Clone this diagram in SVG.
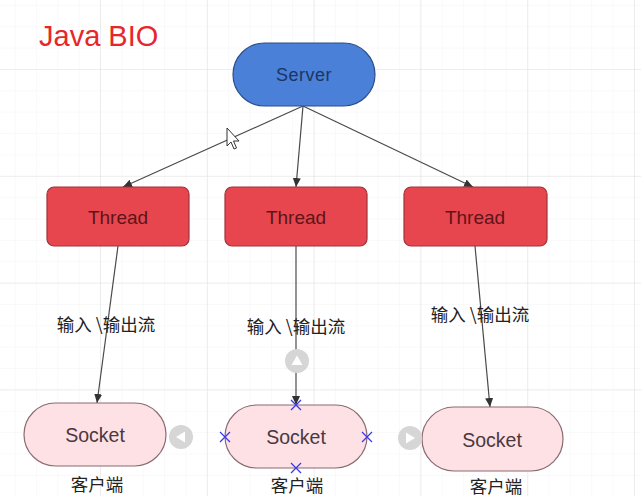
<svg xmlns="http://www.w3.org/2000/svg" width="641" height="496" viewBox="0 0 641 496">
<defs>
<pattern id="minor" x="-6.8" y="-37.8" width="21.36" height="21.36" patternUnits="userSpaceOnUse">
<path d="M0 0H21.36M0 0V21.36" fill="none" stroke="#f3f3f3" stroke-width="1"/>
</pattern>
<pattern id="major" x="-6.8" y="-37.8" width="106.8" height="106.8" patternUnits="userSpaceOnUse">
<path d="M0 0H106.8M0 0V106.8" fill="none" stroke="#e2e2e2" stroke-width="1.2"/>
</pattern>
<marker id="arr" markerWidth="10" markerHeight="10" refX="9" refY="5" orient="auto" markerUnits="userSpaceOnUse">
<path d="M0 1L9 5L0 9Z" fill="#333"/>
</marker>
<style>
.edge{fill:none;stroke:#4a4a4a;stroke-width:1.2;marker-end:url(#arr)}
.server{fill:#4a80d8;stroke:#2b4e8a;stroke-width:1.2}
.thread{fill:#e8464f;stroke:#a0323a;stroke-width:1.2}
.socket{fill:#fde1e5;stroke:#8a6b72;stroke-width:1.2}
.lbl{font-family:"Liberation Sans","Noto Sans CJK SC",sans-serif;text-anchor:middle;dominant-baseline:central}
.cjk{font-family:"Noto Sans CJK SC","Liberation Sans",sans-serif;font-size:17.5px;fill:#222;text-anchor:middle;dominant-baseline:central}
.xm{stroke:#3a3ae8;stroke-width:1.3;fill:none}
.ctl{fill:#d6d6d6}
</style>
</defs>
<rect width="641" height="496" fill="#ffffff"/>
<rect width="641" height="496" fill="url(#minor)"/>
<rect width="641" height="496" fill="url(#major)"/>

<text x="39" y="46" font-family="Liberation Sans, sans-serif" font-size="29" fill="#e8262a">Java BIO</text>

<g id="connectors">
<line class="edge" x1="303" y1="106" x2="123" y2="187"/>
<line class="edge" x1="303" y1="106" x2="296" y2="187"/>
<line class="edge" x1="303" y1="106" x2="473" y2="187"/>
<line class="edge" x1="118" y1="246" x2="97" y2="403"/>
<line class="edge" x1="296" y1="246" x2="296" y2="405"/>
<line class="edge" x1="475" y1="246" x2="490" y2="407"/>
</g>

<g id="label1"><text class="cjk" x="106" y="323">输入<tspan dx="4">\</tspan>输出流</text></g>
<g id="label2"><text class="cjk" x="296" y="325">输入<tspan dx="4">\</tspan>输出流</text></g>
<g id="label3"><text class="cjk" x="480" y="313">输入<tspan dx="4">\</tspan>输出流</text></g>

<g id="server">
<rect class="server" x="233" y="43" width="142" height="63" rx="31.5"/>
<text class="lbl" x="304" y="75" font-size="18" fill="#1c3563" letter-spacing="0.5">Server</text>
</g>

<g id="thread1">
<rect class="thread" x="47" y="187" width="142" height="59" rx="7"/>
<text class="lbl" x="118" y="217" font-size="19" fill="#5e1418">Thread</text>
</g>
<g id="thread2">
<rect class="thread" x="225" y="187" width="142" height="59" rx="7"/>
<text class="lbl" x="296" y="217" font-size="19" fill="#5e1418">Thread</text>
</g>
<g id="thread3">
<rect class="thread" x="404" y="187" width="143" height="59" rx="7"/>
<text class="lbl" x="475" y="217" font-size="19" fill="#5e1418">Thread</text>
</g>

<g id="socket1">
<rect class="socket" x="24" y="403" width="142" height="63" rx="31.5"/>
<text class="lbl" x="95" y="435" font-size="19.5" fill="#4a3840">Socket</text>
<text class="cjk" x="97" y="483">客户端</text>
</g>
<g id="socket2">
<rect class="socket" x="225" y="405" width="142" height="63" rx="31.5"/>
<text class="lbl" x="296" y="437" font-size="19.5" fill="#4a3840">Socket</text>
<text class="cjk" x="297" y="484">客户端</text>
</g>
<g id="socket3">
<rect class="socket" x="422" y="407" width="141" height="64" rx="32"/>
<text class="lbl" x="492" y="440" font-size="19.5" fill="#4a3840">Socket</text>
<text class="cjk" x="496" y="485">客户端</text>
</g>

<g id="ui-marks">
<circle class="ctl" cx="181" cy="437" r="12"/>
<path d="M176 437L185 431.5V442.5Z" fill="#fff"/>
<circle class="ctl" cx="297" cy="361" r="12"/>
<path d="M297 355.5L302.5 365H291.5Z" fill="#fff"/>
<circle class="ctl" cx="410" cy="438" r="12"/>
<path d="M415 438L406 432.5V443.5Z" fill="#fff"/>
<path class="xm" d="M291 400L301 410M301 400L291 410"/>
<path class="xm" d="M220 432L230 442M230 432L220 442"/>
<path class="xm" d="M362 432L372 442M372 432L362 442"/>
<path class="xm" d="M291 463L301 473M301 463L291 473"/>
<path d="M227 128V146L231 142L234 149L236.5 148L233.5 141H239Z" fill="#fff" stroke="#333" stroke-width="1"/>
</g>
</svg>
